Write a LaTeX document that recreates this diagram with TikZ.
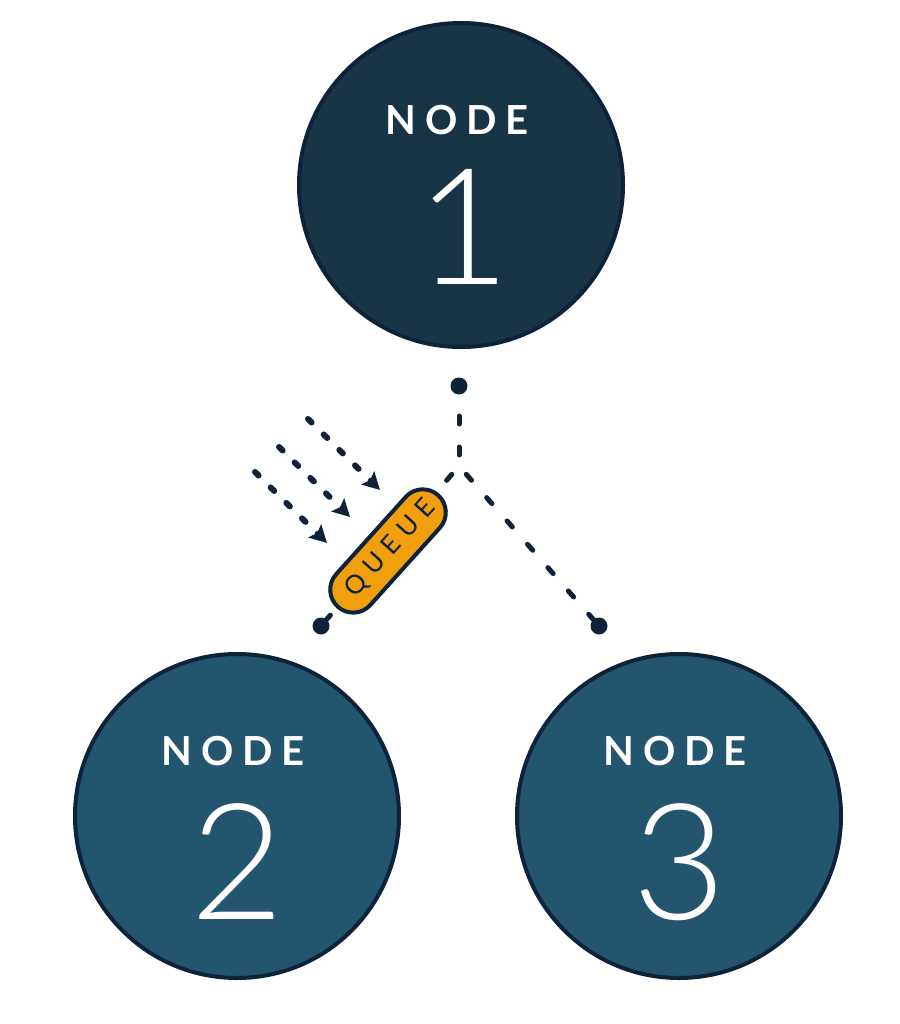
\documentclass[tikz,border=0pt]{standalone}
\usepackage{fontspec}
\usetikzlibrary{calc,arrows.meta}
\setmainfont{Lato}
\newfontfamily\latolight{Lato Light}
\newfontfamily\latocaps[LetterSpace=22]{Lato}
\newfontfamily\latoqueue[LetterSpace=30]{Lato}
\definecolor{navy}{RGB}{14,35,58}
\definecolor{deep}{RGB}{24,52,71}
\definecolor{petrol}{RGB}{35,85,111}
\definecolor{amber}{RGB}{242,159,14}

\begin{document}
\begin{tikzpicture}[x=1pt, y=-1pt, >={Stealth[length=17pt, width=18pt, inset=3pt]},
    host/.style={circle, draw=navy, line width=4pt, minimum size=324pt, inner sep=0pt},
    caption/.style={anchor=base, text=white, font=\latocaps\bfseries\fontsize{40}{40}\selectfont},
    digit/.style={anchor=base, text=white, font=\latolight\fontsize{162}{162}\selectfont},
    dot/.style={circle, fill=navy, minimum size=17pt, inner sep=0pt},
    link/.style={navy, line width=5pt, line cap=round, dash pattern=on 8pt off 23pt, dash phase=20pt},
    feed/.style={navy, line width=6pt, line cap=round, dash pattern=on 5pt off 17pt, ->},
    pill/.style={rectangle, rounded corners=23pt, draw=navy, fill=amber, line width=4pt,
      minimum width=150pt, minimum height=46pt, inner sep=0pt, text=navy,
      font=\latoqueue\fontsize{26}{26}\selectfont}]
  \useasboundingbox (0,0) rectangle (899,1024);
  % ------------------------------------------------------------------ the three hosts
  \node[host, fill=deep] (n1) at (461,185) {};
  \node[host, fill=petrol] (n2) at (237,816) {};
  \node[host, fill=petrol] (n3) at (679,816) {};
  \node[caption] (n1cap) at ($(n1.center)+(-4,-50)$) {NODE};
  \node[caption] (n2cap) at ($(n2.center)+(-4,-51)$) {NODE};
  \node[caption] (n3cap) at ($(n3.center)+(-4,-51)$) {NODE};
  \node[digit] (n1num) at ($(n1.center)+(2,99)$) {1};
  \node[digit] (n2num) at ($(n2.center)+(0,103)$) {2};
  \node[digit] (n3num) at ($(n3.center)+(0,103)$) {3};
  % ------------------------------------------------------------------ the fork
  \coordinate (fork) at (459,466);
  \node[dot] (d1) at (459,386) {};
  \node[dot] (d2) at (321,626) {};
  \node[dot] (d3) at (599,626) {};
  \draw[link] (fork) -- (d1);
  \draw[link] (fork) -- (d2);
  \draw[link] (fork) -- (d3);
  \node[pill, rotate=48] (queue) at (388,551) {QUEUE\kern-7pt};
  % ------------------------------------------------------------------ incoming messages
  \coordinate (s1) at (308,419); \coordinate (t1) at (380,490);
  \coordinate (s2) at (279,447); \coordinate (t2) at (350,517);
  \coordinate (s3) at (255,472); \coordinate (t3) at (327,543);
  \draw[feed] (s1) -- (t1);
  \draw[feed] (s2) -- (t2);
  \draw[feed] (s3) -- (t3);
\end{tikzpicture}
\end{document}
